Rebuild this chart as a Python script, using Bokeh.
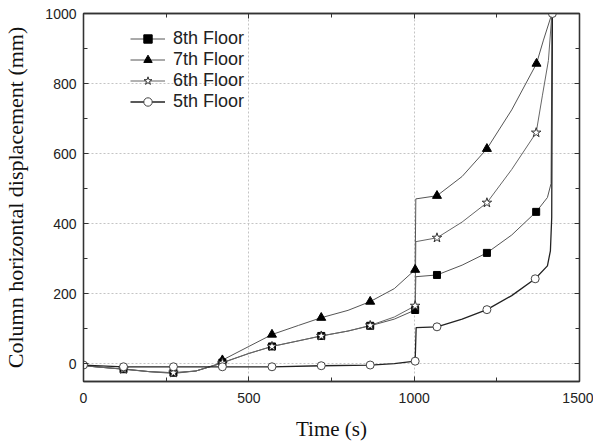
from bokeh.plotting import figure
from bokeh.models import LinearAxis, Range1d, SingleIntervalTicker, Legend, LegendItem
from bokeh.embed import file_html
from bokeh.resources import INLINE

# ---- data ----
f8_t = [0, 60, 121, 200, 272, 340, 400, 420, 500, 570, 650, 719, 800, 867, 940, 1003, 1005, 1069, 1145, 1220, 1295, 1369, 1403, 1414, 1417]
f8_y = [-5, -10, -15, -22, -25, -20, -3, 4, 30, 50, 66, 80, 94, 109, 128, 154, 249, 254, 282, 317, 368, 434, 475, 515, 1000]
f8_mt = [121, 272, 420, 570, 719, 867, 1003, 1069, 1220, 1369]
f8_my = [-15, -25, 4, 50, 80, 109, 154, 254, 317, 434]

f7_t = [0, 60, 121, 200, 272, 340, 400, 420, 500, 570, 650, 719, 800, 867, 940, 1003, 1005, 1069, 1145, 1220, 1295, 1370, 1391, 1415, 1417]
f7_y = [-5, -10, -14, -22, -27, -20, -2, 11, 50, 84, 110, 132, 153, 178, 215, 269, 471, 480, 535, 614, 725, 857, 924, 995, 1000]
f7_mt = [420, 570, 719, 867, 1003, 1069, 1220, 1370]
f7_my = [11, 84, 132, 178, 269, 480, 614, 857]

f6_t = [0, 60, 121, 200, 272, 340, 400, 420, 500, 570, 650, 719, 800, 867, 940, 1003, 1005, 1069, 1145, 1220, 1295, 1369, 1388, 1406, 1415, 1417]
f6_y = [-5, -10, -15, -22, -25, -20, -3, 3, 30, 50, 66, 80, 94, 110, 134, 166, 349, 360, 405, 460, 555, 660, 767, 866, 980, 1000]
f6_mt = [121, 272, 420, 570, 719, 867, 1003, 1069, 1220, 1369]
f6_my = [-15, -25, 3, 50, 80, 110, 166, 360, 460, 660]

f5_t = [0, 121, 272, 420, 570, 719, 867, 940, 1003, 1006, 1069, 1145, 1220, 1295, 1366, 1403, 1412, 1416, 1418]
f5_y = [-3, -8, -8, -8, -8, -5, -3, 1, 8, 104, 106, 128, 155, 195, 243, 280, 323, 418, 1000]
f5_mt = [0, 121, 272, 420, 570, 719, 867, 1003, 1069, 1220, 1366, 1418]
f5_my = [-3, -8, -8, -8, -8, -5, -3, 8, 106, 155, 243, 1000]

labels = ["8th Floor", "7th Floor", "6th Floor", "5th Floor"]

p = figure(width=593, height=443, title=None,
           x_range=Range1d(0, 1500), y_range=Range1d(-50, 1000),
           output_backend="svg", toolbar_location=None,
           min_border_left=83, min_border_right=14, min_border_top=13, min_border_bottom=62)
p.background_fill_color = "white"
p.border_fill_color = "white"
p.outline_line_color = "#333333"
p.outline_line_width = 1.3

xt = SingleIntervalTicker(interval=500, num_minor_ticks=2)
yt = SingleIntervalTicker(interval=200, num_minor_ticks=2)

def style_axis(ax, ticker, show_labels):
    ax.ticker = ticker
    ax.major_tick_in = 5
    ax.major_tick_out = 0
    ax.minor_tick_in = 4
    ax.minor_tick_out = 0
    ax.axis_line_color = "#333333"
    ax.axis_line_width = 1.3
    ax.major_tick_line_color = "#333333"
    ax.minor_tick_line_color = "#333333"
    if show_labels:
        ax.major_label_text_font = "Liberation Sans"
        ax.major_label_text_font_size = "14px"
        ax.major_label_text_color = "#222222"
    else:
        ax.major_label_text_color = None
        ax.major_label_text_font_size = "0px"
        ax.major_label_standoff = 0

xa = p.xaxis[0]
ya = p.yaxis[0]
style_axis(xa, xt, True)
style_axis(ya, yt, True)
xa.major_label_standoff = 11
ya.major_label_standoff = 7
xa.axis_label = "Time (s)"
ya.axis_label = "Column horizontal displacement (mm)"
for ax, fs in ((xa, "21px"), (ya, "22px")):
    ax.axis_label_text_font = "Liberation Serif"
    ax.axis_label_text_font_size = fs
    ax.axis_label_text_font_style = "normal"
    ax.axis_label_text_color = "#111111"
xa.axis_label_standoff = 11
ya.axis_label_standoff = 14

top = LinearAxis()
style_axis(top, SingleIntervalTicker(interval=500, num_minor_ticks=2), False)
p.add_layout(top, "above")
right = LinearAxis()
style_axis(right, SingleIntervalTicker(interval=200, num_minor_ticks=2), False)
p.add_layout(right, "right")

for g in (p.xgrid[0], p.ygrid[0]):
    g.grid_line_color = "#c4c4c4"
    g.grid_line_dash = "2 2"
    g.grid_line_width = 1

l8 = p.line(f8_t, f8_y, line_color="#555555", line_width=1)
l7 = p.line(f7_t, f7_y, line_color="#555555", line_width=1)
l6 = p.line(f6_t, f6_y, line_color="#666666", line_width=1)
l5 = p.line(f5_t, f5_y, line_color="#222222", line_width=1.3)

s8 = p.scatter(f8_mt, f8_my, marker="square", size=7, fill_color="black", line_color="black")
s7 = p.scatter(f7_mt, f7_my, marker="triangle", size=9, fill_color="black", line_color="black")
s6 = p.scatter(f6_mt, f6_my, marker="star", size=10, fill_color="white", line_color="#333333")
s5 = p.scatter(f5_mt, f5_my, marker="circle", size=8, fill_color="white", line_color="#444444")

legend = Legend(items=[
    LegendItem(label=labels[0], renderers=[l8, s8]),
    LegendItem(label=labels[1], renderers=[l7, s7]),
    LegendItem(label=labels[2], renderers=[l6, s6]),
    LegendItem(label=labels[3], renderers=[l5, s5]),
])
legend.location = (47, 368 - 15 - 84)
legend.padding = 0
legend.margin = 0
legend.spacing = 0
legend.glyph_width = 35
legend.glyph_height = 21
legend.label_height = 21
legend.label_standoff = 8
legend.label_text_font = "Liberation Sans"
legend.label_text_font_size = "18px"
legend.label_text_color = "#222222"
legend.background_fill_alpha = 0
legend.border_line_alpha = 0
p.add_layout(legend, "center")

open("out.html", "w").write(file_html(p, INLINE))
